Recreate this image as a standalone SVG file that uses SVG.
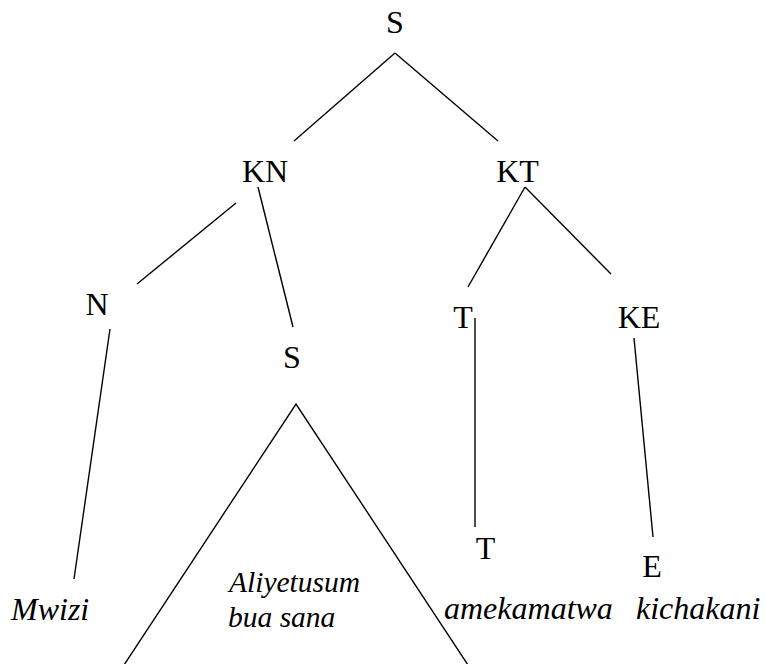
<svg xmlns="http://www.w3.org/2000/svg" width="766" height="664" viewBox="0 0 766 664">
<style>
text{font-family:'Liberation Serif','DejaVu Serif',serif;fill:#000}
.lbl{font-size:32px;text-anchor:middle}
.leaf{font-size:32px;font-style:italic}
.leaf2{font-size:29.5px;font-style:italic}
.edge{stroke:#000;stroke-width:1.4;fill:none}
</style>
<rect width="766" height="664" fill="#fff"/>
<g id="connectors">
<line class="edge" x1="395" y1="53" x2="294" y2="141"/>
<line class="edge" x1="395" y1="53" x2="498" y2="141"/>
<line class="edge" x1="236" y1="203" x2="137" y2="284"/>
<line class="edge" x1="258" y1="187" x2="293" y2="327"/>
<line class="edge" x1="525" y1="187" x2="468" y2="287"/>
<line class="edge" x1="525" y1="187" x2="611" y2="274"/>
<line class="edge" x1="110" y1="329" x2="74" y2="579"/>
<line class="edge" x1="475" y1="318" x2="475" y2="527"/>
<line class="edge" x1="634" y1="338" x2="653" y2="537"/>
<polyline class="edge" points="124,665 296,404 468,665"/>
</g>
<g id="node-S"><text class="lbl" x="395" y="33">S</text></g>
<g id="node-KN"><text class="lbl" x="265" y="182">KN</text></g>
<g id="node-KT"><text class="lbl" x="517.5" y="182">KT</text></g>
<g id="node-N"><text class="lbl" x="97" y="314.5">N</text></g>
<g id="node-S2"><text class="lbl" x="292" y="368">S</text></g>
<g id="node-T"><text class="lbl" x="463" y="328">T</text></g>
<g id="node-KE"><text class="lbl" x="639" y="328">KE</text></g>
<g id="node-T2"><text class="lbl" x="485.5" y="559">T</text></g>
<g id="node-E"><text class="lbl" x="652" y="577">E</text></g>
<g id="leaf-Mwizi"><text class="leaf" x="11" y="620">Mwizi</text></g>
<g id="leaf-Aliyetusumbua"><text class="leaf2" x="229" y="591.5">Aliyetusum</text><text class="leaf2" x="228" y="627">bua sana</text></g>
<g id="leaf-amekamatwa"><text class="leaf" x="444" y="619">amekamatwa</text></g>
<g id="leaf-kichakani"><text class="leaf" x="636" y="619">kichakani</text></g>
</svg>
